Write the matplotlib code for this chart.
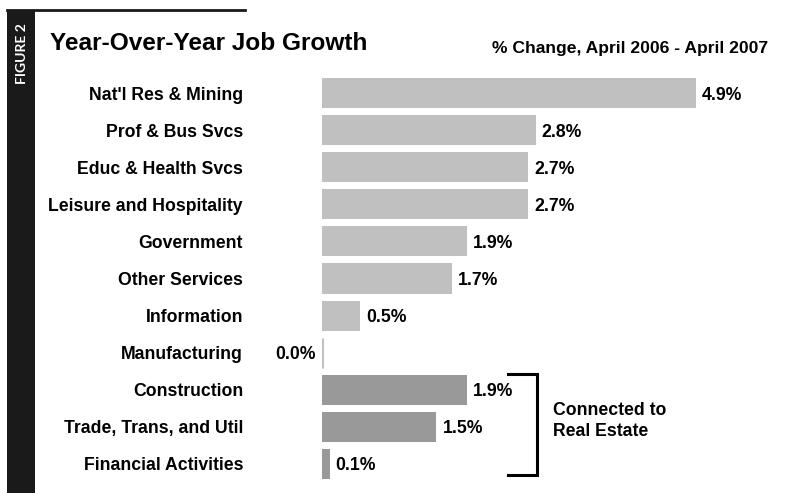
import matplotlib.pyplot as plt
from matplotlib.patches import Rectangle
from matplotlib.lines import Line2D

# job growth by sector, % change April 2006 - April 2007
sectors = ["Nat'l Res & Mining", "Prof & Bus Svcs", "Educ & Health Svcs",
           "Leisure and Hospitality", "Government", "Other Services",
           "Information", "Manufacturing", "Construction",
           "Trade, Trans, and Util", "Financial Activities"]
growth = [4.9, 2.8, 2.7, 2.7, 1.9, 1.7, 0.5, 0.0, 1.9, 1.5, 0.1]
real_estate = [False] * 8 + [True] * 3

plt.rcParams['font.family'] = ['Liberation Sans', 'DejaVu Sans']
plt.rcParams['font.weight'] = 'bold'

W, H = 785, 493
fig = plt.figure(figsize=(W / 100, H / 100), dpi=100)

# black side band + rule across the top
fig.patches.append(Rectangle((7 / W, 0), 28 / W, 1 - 10 / H, transform=fig.transFigure,
                             facecolor='#1a1a1a', edgecolor='none'))
fig.lines.append(Line2D([7 / W, 245 / W], [1 - 10 / H] * 2, transform=fig.transFigure,
                        color='#1a1a1a', lw=2))
fig.text(22 / W, 1 - 54 / H, 'FIGURE 2', rotation=90, color='white', fontsize=10,
         family=['Lato', 'DejaVu Sans'], fontweight='bold', ha='center', va='center')

fig.text(50 / W, 1 - 43 / H, 'Year-Over-Year Job Growth', fontsize=17.6,
         fontweight='bold', ha='left', va='center')
fig.text(768 / W, 1 - 49 / H, '% Change, April 2006 - April 2007', fontsize=12.6,
         fontweight='bold', ha='right', va='center')

fs = 12.7

# axes start at the zero line of the bars
left = 322
ax = fig.add_axes([left / W, 0, 1 - left / W, 1])
px_unit = 76.3
row = 37.1
ax.set_xlim(0, (W - left) / px_unit)
ax.set_ylim((H - 93) / row, -93 / row)

ypos = list(range(len(sectors)))
colors = ['#999999' if r else '#c0c0c0' for r in real_estate]
bars = ax.barh(ypos, growth, height=0.81, color=colors, edgecolor='none')
for b, v, c in zip(bars, growth, colors):
    yc = b.get_y() + b.get_height() / 2
    if v == 0:
        b.set_edgecolor(c)
        b.set_linewidth(2.2)
        ax.text(-6 / px_unit, yc, f'{v:.1f}%', ha='right', va='center_baseline',
                fontsize=fs, fontweight='bold')
    else:
        ax.text(v + 6 / px_unit, yc, f'{v:.1f}%', ha='left', va='center_baseline',
                fontsize=fs, fontweight='bold')

ax.set_yticks(ypos)
ax.set_yticklabels(sectors, fontsize=fs, fontweight='bold')
ax.tick_params(axis='y', length=0, pad=(left - 243) * 0.72)
ax.set_xticks([])
for s in ax.spines.values():
    s.set_visible(False)
ax.patch.set_alpha(0)

# bracket around the real-estate sectors
bx = (537 - left) / px_unit
bl = (508 - left) / px_unit
y0 = (374 - 93) / row
y1 = (475 - 93) / row
ax.plot([bl, bx, bx, bl], [y0, y0, y1, y1], color='black', lw=2.2,
        clip_on=False, solid_joinstyle='miter')
ax.text((553 - left) / px_unit, (421 - 93) / row, 'Connected to\nReal Estate',
        ha='left', va='center', fontsize=fs, fontweight='bold', linespacing=1.25)

fig.savefig('out.png', dpi=100)
